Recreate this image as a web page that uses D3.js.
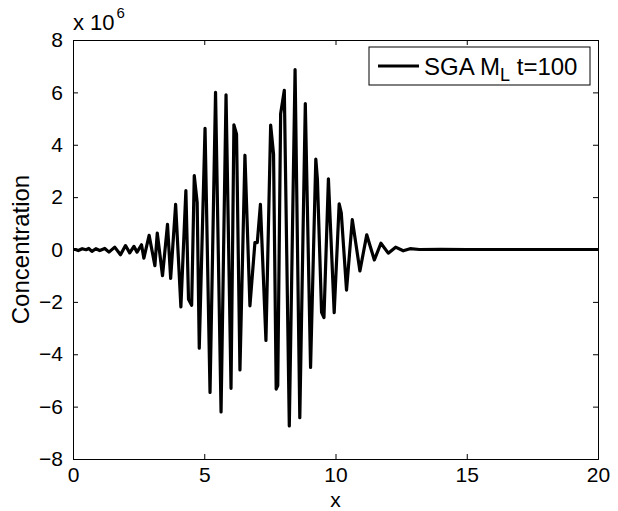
<!DOCTYPE html>
<html>
<head>
<meta charset="utf-8">
<script src="https://cdn.jsdelivr.net/npm/d3@7"></script>
<style>
  html, body { margin: 0; padding: 0; background: #fff; }
  svg text { font-family: "Liberation Sans", Arial, Helvetica, sans-serif; fill: #000; }
</style>
</head>
<body>
<svg id="chart" width="618" height="511"></svg>
<script>
// Concentration profile at t = 100 (values in units of 10^6)
const xPos = [
  0, 0.1, 0.2, 0.35, 0.5, 0.6, 0.72, 0.87, 1.02, 1.21, 1.37, 1.59, 1.81, 2.0, 2.16, 2.32, 2.44, 2.61,
  2.70, 2.90, 3.12, 3.21, 3.41, 3.60, 3.72, 3.91, 4.11, 4.30, 4.40, 4.52, 4.62, 4.73, 4.81, 5.03,
  5.22, 5.43, 5.64, 5.83, 6.02, 6.13, 6.23, 6.36, 6.55, 6.74, 6.93, 7.02, 7.14, 7.35, 7.53, 7.64,
  7.74, 7.80, 7.91, 8.05, 8.24, 8.46, 8.64, 8.85, 9.05, 9.25, 9.31, 9.47, 9.56, 9.73, 9.95, 10.14,
  10.22, 10.42, 10.64, 10.93, 11.19, 11.48, 11.73, 12.01, 12.29, 12.58, 12.84, 13.2, 14, 15, 16, 17, 18, 19, 20
];
const concMillions = [
  0, 0, -0.04, 0.03, -0.01, 0.04, -0.07, 0.03, -0.04, 0.04, -0.1, 0.09, -0.2, 0.15, -0.13, 0.12, -0.1, 0.18,
  -0.33, 0.54, -0.62, 0.63, -1.0, 0.96, -1.1, 1.72, -2.19, 2.25, -1.9, -2.13, 2.82, 1.8, -3.77, 4.63,
  -5.46, 6.0, -6.2, 5.91, -5.3, 4.76, 4.4, -4.6, 3.6, -2.15, 0.26, 0.26, 1.72, -3.47, 4.75, 3.64,
  -5.33, -5.2, 5.18, 6.08, -6.74, 6.87, -6.42, 5.57, -4.5, 3.45, 2.7, -2.4, -2.6, 2.7, -2.41, 1.74,
  1.4, -1.55, 1.14, -0.82, 0.56, -0.4, 0.24, -0.14, 0.09, -0.05, 0.03, 0.0, 0.01, 0.0, 0.0, 0.0, 0.0, 0.0, 0.0
];
const xTicks = [0, 5, 10, 15, 20];
const yTicks = [-8, -6, -4, -2, 0, 2, 4, 6, 8];
const seriesName = "SGA M";
const seriesSub = "L";
const seriesSuffix = " t=100";

const svg = d3.select("#chart");
const plot = { left: 73, right: 598, top: 40, bottom: 459 };
const tickFont = 21, labelFont = 24, legendFont = 24;

const x = d3.scaleLinear().domain([0, 20]).range([plot.left, plot.right]);
const y = d3.scaleLinear().domain([-8, 8]).range([plot.bottom, plot.top]);

const fmt = d => (d < 0 ? "\u2212" + Math.abs(d) : String(d));

// Axes with inward ticks on all four sides
const axB = svg.append("g").attr("transform", `translate(0,${plot.bottom})`)
  .call(d3.axisBottom(x).tickValues(xTicks).tickSize(-5).tickPadding(8).tickFormat(fmt));
const axT = svg.append("g").attr("transform", `translate(0,${plot.top})`)
  .call(d3.axisTop(x).tickValues(xTicks).tickSize(-5).tickFormat(""));
const axL = svg.append("g").attr("transform", `translate(${plot.left},0)`)
  .call(d3.axisLeft(y).tickValues(yTicks).tickSize(-5).tickPadding(10).tickFormat(fmt));
const axR = svg.append("g").attr("transform", `translate(${plot.right},0)`)
  .call(d3.axisRight(y).tickValues(yTicks).tickSize(-5).tickFormat(""));

[axB, axT, axL, axR].forEach(g => {
  g.select(".domain").attr("stroke", "#000").attr("stroke-width", 1);
  g.selectAll(".tick line").attr("stroke", "#000").attr("stroke-width", 1);
  g.selectAll(".tick text").attr("font-size", tickFont).style("font-family", '"Liberation Sans", Arial, sans-serif');
});

// Data line
const pts = xPos.map((v, i) => [v, concMillions[i]]);
svg.append("path")
  .datum(pts)
  .attr("fill", "none")
  .attr("stroke", "#000")
  .attr("stroke-width", 3.2)
  .attr("stroke-linejoin", "round")
  .attr("d", d3.line().x(d => x(d[0])).y(d => y(d[1])));

// Axis labels
svg.append("text")
  .attr("x", (plot.left + plot.right) / 2).attr("y", 506.5)
  .attr("text-anchor", "middle").attr("font-size", 21)
  .text("x");
svg.append("text")
  .attr("transform", `translate(29,${(plot.top + plot.bottom) / 2}) rotate(-90)`)
  .attr("text-anchor", "middle").attr("font-size", labelFont)
  .text("Concentration");

// Exponent multiplier
const mult = svg.append("text").attr("x", plot.left).attr("y", 30).attr("font-size", 22);
mult.append("tspan").text("x 10");
mult.append("tspan").attr("dx", 2).attr("dy", -12).attr("font-size", 15).text("6");

// Legend
const lg = svg.append("g");
lg.append("rect")
  .attr("x", 369).attr("y", 47).attr("width", 221).attr("height", 38)
  .attr("fill", "#fff").attr("stroke", "#000").attr("stroke-width", 1);
lg.append("line")
  .attr("x1", 378).attr("x2", 419).attr("y1", 66).attr("y2", 66)
  .attr("stroke", "#000").attr("stroke-width", 3.2);
const lt = lg.append("text").attr("x", 424).attr("y", 75).attr("font-size", legendFont);
lt.append("tspan").text(seriesName);
lt.append("tspan").attr("dy", 6).attr("font-size", 18).text(seriesSub);
lt.append("tspan").attr("dy", -6).text(seriesSuffix);
</script>
</body>
</html>
